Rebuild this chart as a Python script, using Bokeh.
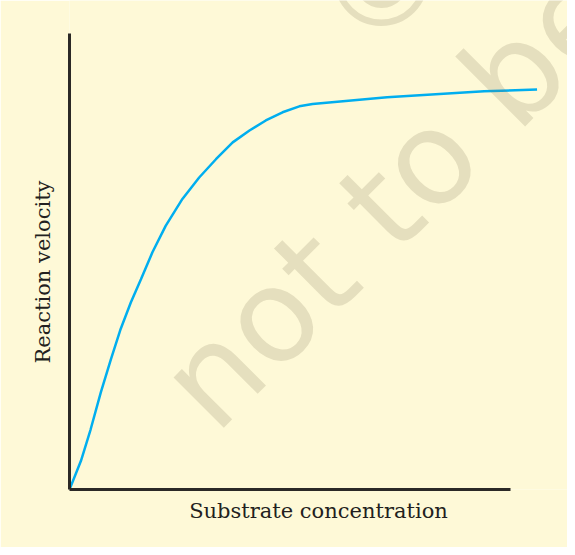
import math
from bokeh.plotting import figure
from bokeh.models import Range1d, Label, LinearAxis, Title
from bokeh.embed import file_html
from bokeh.resources import INLINE

# Data (arbitrary units, axis length = 100)
substrate = [0, 2.6, 4.8, 7.1, 9.4, 11.6, 13.9, 16.2, 18.8, 21.8, 25.6, 29.4,
             33.2, 37.0, 40.8, 44.5, 48.3, 52.1, 55.1, 72, 94, 106]
velocity = [0, 6.3, 13.2, 21.3, 28.6, 35.2, 41.0, 46.1, 52.0, 57.8, 63.7, 68.4,
            72.4, 76.1, 78.7, 80.9, 82.7, 84.0, 84.5, 86.0, 87.3, 87.7]
x_label = "Substrate concentration"
y_label = "Reaction velocity"

BG = "#FEF9D7"
AXIS = "#2B2926"
TXT = "#231F20"

p = figure(width=567, height=547, output_backend="svg", toolbar_location=None,
           x_range=Range1d(0, 112.9), y_range=Range1d(0, 107.2),
           x_axis_type=None, y_axis_type=None,
           min_border_left=69, min_border_right=0, min_border_top=0,
           min_border_bottom=58)
p.background_fill_color = BG
p.border_fill_color = BG
p.outline_line_color = None
p.xgrid.visible = False
p.ygrid.visible = False

for loc in ("left", "below"):
    ax = LinearAxis(bounds=(0, 100))
    ax.axis_line_color = AXIS
    ax.axis_line_width = 3
    ax.major_tick_line_color = None
    ax.minor_tick_line_color = None
    ax.major_label_text_font_size = "0px"
    ax.major_label_text_color = None
    p.add_layout(ax, loc)

p.line(substrate, velocity, line_color="#00AEEF", line_width=2.5)

p.add_layout(Title(text=y_label, align="left", offset=126, standoff=18,
                   text_font="DejaVu Serif", text_font_size="21px",
                   text_font_style="normal", text_color=TXT), "left")
p.add_layout(Title(text=x_label, align="center", standoff=2,
                   text_font="DejaVu Serif", text_font_size="21px",
                   text_font_style="normal", text_color=TXT), "below")

# watermark
p.add_layout(Label(x=25.9, y=18.7, text="not to be", text_font="DejaVu Sans",
                   text_font_size="130px", text_color="#80785A", text_alpha=0.2,
                   angle=math.pi / 4, text_align="left", text_baseline="alphabetic"))
p.add_layout(Label(x=71, y=111.6, text="\u00a9", text_font="DejaVu Sans",
                   text_font_size="130px", text_color="#80785A", text_alpha=0.2,
                   angle=math.pi / 4, text_align="center", text_baseline="middle"))

open("out.html", "w").write(file_html(p, INLINE))
